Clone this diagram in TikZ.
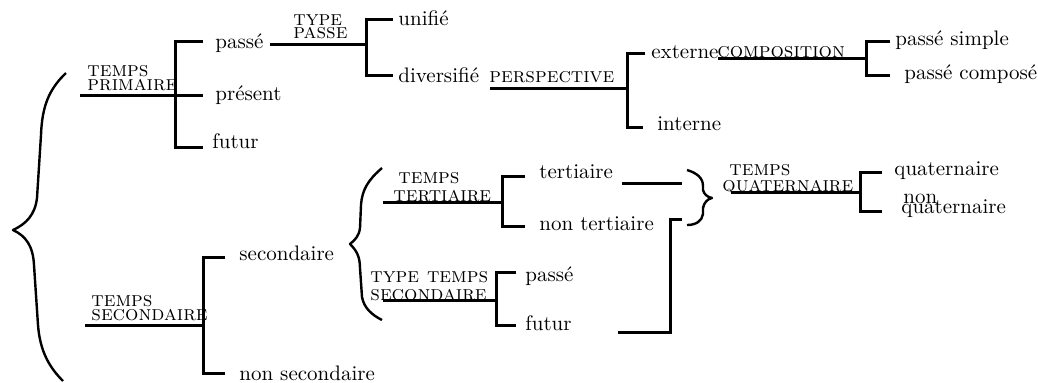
\documentclass[tikz,border=0pt]{standalone}
\begin{document}
\begin{tikzpicture}[x=0.5pt,y=-0.5pt,
  every node/.style={inner sep=0pt,anchor=base west},
  lbl/.style={font=\fontsize{10.5}{12}\selectfont},
  sclbl/.style={font=\fontsize{10.5}{12}\selectfont\scshape},
  br/.style={line width=1.5pt},
  brace/.style={line width=1.2pt,line join=round}]
\useasboundingbox (0,0) rectangle (1038,382);
% ---------- texts, upper part
\node[sclbl] (tpA) at (87,76) {temps};
\node[sclbl] (tpB) at (87,90) {primaire};
\node[lbl] (passe) at (215,48) {passé};
\node[lbl] (present) at (215,100) {présent};
\node[lbl] (futur) at (212,148) {futur};
\node[sclbl] (typA) at (293,25) {type};
\node[sclbl] (typB) at (293,38) {passe};
\node[lbl] (unifie) at (398,25) {unifié};
\node[lbl] (divers) at (398,82) {diversifié};
\node[sclbl] (persp) at (489,82) {perspective};
\node[lbl] (externe) at (651,58) {externe};
\node[lbl] (interne) at (657,130) {interne};
\node[sclbl] (compo) at (717,57) {composition};
\node[lbl] (psimple) at (895,45) {passé simple};
\node[lbl] (pcompose) at (904,79) {passé composé};
% ---------- texts, lower part
\node[sclbl] (tsA) at (91,306) {temps};
\node[sclbl] (tsB) at (91,320) {secondaire};
\node[lbl] (second) at (239,260) {secondaire};
\node[lbl] (nonsec) at (239,380) {non secondaire};
\node[sclbl] (ttA) at (398,183) {temps};
\node[sclbl] (ttB) at (393,201) {tertiaire};
\node[lbl] (tert) at (539,178) {tertiaire};
\node[lbl] (ntert) at (539,230) {non tertiaire};
\node[sclbl] (tytA) at (370,282) {type temps};
\node[sclbl] (tytB) at (370,300) {secondaire};
\node[lbl] (passe2) at (525,281) {passé};
\node[lbl] (futur2) at (525,330) {futur};
\node[sclbl] (tqA) at (729,175) {temps};
\node[sclbl] (tqB) at (722,191) {quaternaire};
\node[lbl] (quat) at (894,175) {quaternaire};
\node[lbl] (nonq) at (903,203) {non};
\node[lbl] (nquat) at (901,213) {quaternaire};
% ---------- tree points
\coordinate (tpL) at (80,95);  \coordinate (tpJ) at (175,95);
\coordinate (tp1) at (203,41); \coordinate (tp2) at (203,95); \coordinate (tp3) at (203,147);
\coordinate (typL) at (270,44); \coordinate (typJ) at (366,44);
\coordinate (ty1) at (393,19); \coordinate (ty2) at (393,75);
\coordinate (peL) at (490,88); \coordinate (peJ) at (627,88);
\coordinate (pe1) at (645,53); \coordinate (pe2) at (643,127);
\coordinate (coL) at (718,58); \coordinate (coJ) at (866,58);
\coordinate (co1) at (890,41); \coordinate (co2) at (890,75);
\coordinate (tsL) at (85,325); \coordinate (tsJ) at (203,325);
\coordinate (ts1) at (225,257); \coordinate (ts2) at (225,373);
\coordinate (ttL) at (383,202); \coordinate (ttJ) at (502,202);
\coordinate (tt1) at (525,176); \coordinate (tt2) at (525,226);
\coordinate (tyL) at (383,300); \coordinate (tyJ) at (496,300);
\coordinate (ty3) at (516,272); \coordinate (ty4) at (516,325);
\coordinate (tqL) at (731,192); \coordinate (tqJ) at (860,192);
\coordinate (tq1) at (882,172); \coordinate (tq2) at (882,211);
\coordinate (c1a) at (622,183); \coordinate (c1b) at (682,183);
\coordinate (c2a) at (618,332); \coordinate (c2k) at (670,219); \coordinate (c2b) at (682,219);
% ---------- tree lines
\draw[br] (tpL) -- (tpJ) -- (tp2);
\draw[br] (tp1) -| (tpJ) |- (tp3);
\draw[br] (typL) -- (typJ);
\draw[br] (ty1) -| (typJ) |- (ty2);
\draw[br] (peL) -- (peJ);
\draw[br] (pe1) -| (peJ) |- (pe2);
\draw[br] (coL) -- (coJ);
\draw[br] (co1) -| (coJ) |- (co2);
\draw[br] (tsL) -- (tsJ);
\draw[br] (ts1) -| (tsJ) |- (ts2);
\draw[br] (ttL) -- (ttJ);
\draw[br] (tt1) -| (ttJ) |- (tt2);
\draw[br] (tyL) -- (tyJ);
\draw[br] (ty3) -| (tyJ) |- (ty4);
\draw[br] (tqL) -- (tqJ);
\draw[br] (tq1) -| (tqJ) |- (tq2);
\draw[br] (c1a) -- (c1b);
\draw[br] (c2a) -| (c2k) -- (c2b);
% ---------- braces
\draw[brace] (66,73) .. controls (48,90) and (42,108) .. (41,135) -- (37,198)
  .. controls (35,215) and (26,224) .. (13,230)
  .. controls (26,236) and (33,246) .. (34,265) -- (38,325)
  .. controls (40,352) and (50,368) .. (63,381);
\draw[brace] (382,168) .. controls (368,180) and (362,190) .. (361,205) -- (360,228)
  .. controls (359,236) and (355,240) .. (350,244)
  .. controls (356,250) and (360,256) .. (360,268) -- (362,297)
  .. controls (364,308) and (372,315) .. (382,320);
\draw[brace] (687,170) .. controls (697,173) and (703,178) .. (703,186) -- (703,190)
  .. controls (704,194) and (707,197) .. (712,198)
  .. controls (707,199) and (704,203) .. (703,208) -- (703,214)
  .. controls (702,221) and (696,225) .. (687,225);
\end{tikzpicture}
\end{document}
